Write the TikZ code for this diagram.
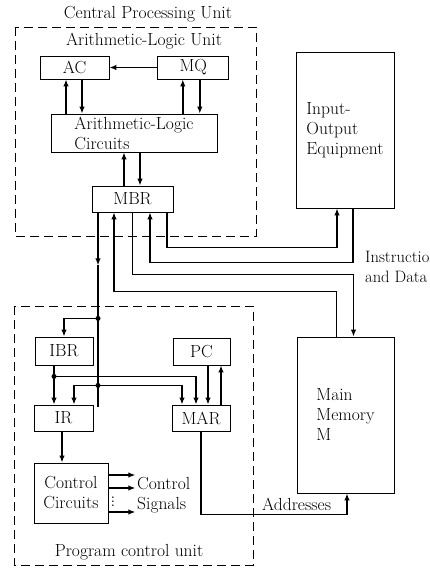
\documentclass[tikz,border=0pt]{standalone}
\usepackage{fontspec}
\usetikzlibrary{arrows.meta,positioning}

\begin{document}
\begin{tikzpicture}[x=1pt,y=-1pt,font=\fontsize{17.5}{20}\selectfont,
 reg/.style={draw,line width=.8pt,inner sep=0pt,align=center},
 unit/.style={draw,dash pattern=on 9pt off 5pt,line width=.8pt},
 wire/.style={line width=1.5pt},
 arr/.style={-{Latex[length=7pt,width=5.5pt]},line width=1.5pt},
 dot/.style={circle,fill,inner sep=0pt,minimum size=5pt}]
\useasboundingbox (0,0) rectangle (430,569);

% dashed frames and their titles
\draw[unit] (15,27) rectangle (256,236);
\draw[unit] (14,306) rectangle (253,565);
\node (cpulbl) at (148,14) {Central Processing Unit};
\node (alulbl) at (144,41) {Arithmetic-Logic Unit};
\node (pculbl) at (129,552) {Program control unit};

% arithmetic-logic unit
\node[reg,minimum width=69pt,minimum height=23pt] (AC) at (74.5,67.5) {AC};
\node[reg,minimum width=71pt,minimum height=23pt,right=48pt of AC] (MQ) {MQ};
\node[reg,minimum width=166pt,minimum height=38pt,align=left] (ALC) at (134,133)
 {Arithmetic-Logic\\Circuits};
\node[reg,minimum width=81pt,minimum height=26pt] (MBR) at (132.5,199) {MBR};

% outside units
\node[reg,minimum width=98pt,minimum height=156pt,align=left] (IO) at (345,130)
 {Input-\\Output\\Equipment};
\node[reg,minimum width=97pt,minimum height=156pt,align=left] (MM) at (345.5,415)
 {Main\\Memory\\M};

% program control unit
\node[reg,minimum width=58pt,minimum height=28pt] (IBR) at (64,351) {IBR};
\node[reg,minimum width=57pt,minimum height=27pt] (PC) at (201.5,351.5) {PC};
\node[reg,minimum width=59pt,minimum height=26pt] (IR) at (63.5,418) {IR};
\node[reg,minimum width=58pt,minimum height=26pt] (MAR) at (201,418) {MAR};
\node[reg,minimum width=74pt,minimum height=60pt] (CC) at (71,493) {Control\\Circuits};

% ALU paths
\draw[arr] (MQ) -- (AC);
\draw[arr] ([xshift=-8.5pt]AC.south |- ALC.north) -- ([xshift=-8.5pt]AC.south);
\draw[arr] ([xshift=7.5pt]AC.south) -- ([xshift=7.5pt]AC.south |- ALC.north);
\draw[arr] ([xshift=-10.5pt]MQ.south |- ALC.north) -- ([xshift=-10.5pt]MQ.south);
\draw[arr] ([xshift=6.5pt]MQ.south) -- ([xshift=6.5pt]MQ.south |- ALC.north);
\draw[arr] ([xshift=-8.5pt]MBR.north) -- ([xshift=-8.5pt]MBR.north |- ALC.south);
\draw[arr] ([xshift=7.5pt]MBR.north |- ALC.south) -- ([xshift=7.5pt]MBR.north);

% MBR to I/O and memory
\draw[arr] ([xshift=34.5pt]MBR.south) -- ++(0,35) -| ([xshift=-8pt]IO.south);
\draw[arr] ([xshift=8pt]IO.south) -- ++(0,54) -| ([xshift=17.5pt]MBR.south);
\draw[arr] (MBR.south) -- ++(0,62) -| ([xshift=8pt]MM.north);
\draw[arr] ([xshift=-9pt]MM.north) -- ++(0,-45) -| ([xshift=-18.5pt]MBR.south);
\node[anchor=west,align=left,inner sep=1pt,font=\fontsize{16.5}{20}\selectfont] (insdata)
 at (364,267) {Instructions\\and Data};

% bus into program control
\coordinate (busarr) at ([xshift=-34.5pt,yshift=-53pt]MBR.south);
\coordinate (j1) at ([xshift=-34.5pt,yshift=-106pt]MBR.south);
\coordinate (j3) at ([yshift=-67pt]j1);
\coordinate (busend) at ([yshift=-22pt]j3);
\coordinate (j2) at ([xshift=-10pt,yshift=-11pt]IBR.south);
\draw[arr] ([xshift=-34.5pt]MBR.south) -- (busarr);
\draw[wire] (busarr) -- (busend);
\draw[arr] (j1) -| (IBR.north);
\draw[wire] ([xshift=-10pt]IBR.south) -- (j2);
\draw[arr] (j2) -- (j2 |- IR.north);
\draw[arr] (j2) -| ([xshift=-5pt]MAR.north);
\draw[arr] (j3) -| ([xshift=10.5pt]IR.north);
\draw[arr] (j3) -| ([xshift=-19pt]MAR.north);
\node[dot] (d1) at (j1) {};
\node[dot] (d2) at (j2) {};
\node[dot] (d3) at (j3) {};
\draw[arr] ([xshift=6.5pt]PC.south) -- ([xshift=6.5pt]PC.south |- MAR.north);
\draw[arr] ([xshift=19.5pt]PC.south |- MAR.north) -- ([xshift=19.5pt]PC.south);
\draw[arr] ([xshift=-1.5pt]IR.south) -- ([xshift=-1.5pt]IR.south |- CC.north);

% control signals
\draw[arr] ([yshift=18pt]CC.east) -- ++(27,0);
\draw[arr] ([yshift=5pt]CC.east) -- ++(27,0);
\draw[arr] ([yshift=-19pt]CC.east) -- ++(27,0);
\node[font=\normalsize\bfseries,inner sep=0pt] (vd) at (113,499) {$\vdots$};
\node[anchor=west,align=left,inner sep=2pt] (sig) at (135,495) {Control\\Signals};

% addresses
\draw[arr] (MAR.south) -- ++(0,83) -| ([xshift=1.5pt]MM.south);
\node[anchor=base west,inner sep=1pt] (addr) at (261,510) {Addresses};
\end{tikzpicture}
\end{document}
